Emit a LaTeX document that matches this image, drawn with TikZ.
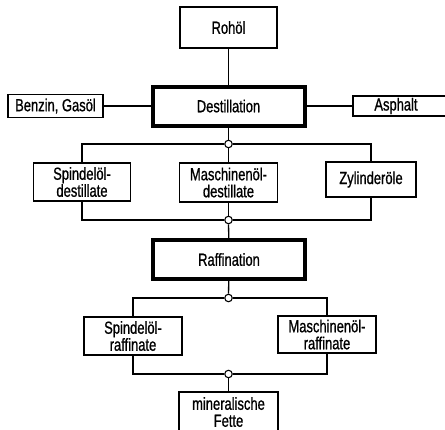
\documentclass[tikz,border=0pt]{standalone}
\usepackage{fontspec}
\setmainfont{Liberation Sans}[FakeStretch=0.74, FakeBold=0.8]
\usetikzlibrary{positioning}
\tikzset{
  every picture/.style={x=1pt, y=-1pt, line width=1.3pt},
  box/.style={draw, fill=white, line width=1.6pt, align=center, inner sep=2pt,
    font=\fontsize{17.5}{17}\selectfont, minimum width=#1},
  box/.default=97pt,
  mainbox/.style={box=152pt, line width=4pt, minimum height=39pt},
  dot/.style={circle, draw, fill=white, line width=1.1pt, inner sep=0pt, minimum size=7.5pt},
  wire/.style={draw, line width=1.3pt},
}
\begin{document}
\begin{tikzpicture}
  \useasboundingbox (0,0) rectangle (445,429);
  \clip (0,0) rectangle (445,429);
  % ---------- Destillation
  \node[box=97pt, minimum height=41pt] (roh) at (228.5,27.5) {Rohöl};
  \node[mainbox] (dest) at (228.5,106) {Destillation};
  \node[box=95pt, minimum height=23pt] (benzin) at (55.5,106) {Benzin, Gasöl};
  \node[box=97pt, minimum height=20pt] (asph) at (401.5,106) {Asphalt\hspace*{11pt}};
  \draw[wire] (roh) -- (dest);
  \draw[wire] (benzin) -- (dest);
  \draw[wire] (dest) -- (asph);
  % ---------- Destillate
  \node[dot] (j1) at (228.5,144) {};
  \node[box=97pt, minimum height=38pt] (spd) at (82,182) {Spindelöl-\\destillate};
  \node[box=98pt, minimum height=39pt] (mad) at (228.5,182.5) {Maschinenöl-\\destillate};
  \node[box=90pt, minimum height=35pt] (zyl) at (371,179.5) {Zylinderöle};
  \node[dot] (j2) at (228.5,220) {};
  \draw[wire] (dest) -- (j1);
  \draw[wire] (spd) |- (j1) -| (zyl);
  \draw[wire] (mad) -- (j1);
  \draw[wire] (spd) |- (j2) -| (zyl);
  \draw[wire] (mad) -- (j2);
  % ---------- Raffination
  \node[mainbox] (raf) at (229,259.5) {Raffination};
  \node[dot] (j3) at (228.5,298) {};
  \node[box=98pt, minimum height=38pt] (spr) at (133,336) {Spindelöl-\\raffinate};
  \node[box=98pt, minimum height=37pt] (mar) at (327,334.5) {Maschinenöl-\\raffinate};
  \node[dot] (j4) at (228.5,374) {};
  \node[box=99pt, minimum height=40pt] (fett) at (228.5,412) {mineralische\\Fette};
  \draw[wire] (j2) -- (raf);
  \draw[wire] (raf) -- (j3);
  \draw[wire] (spr) |- (j3) -| (mar);
  \draw[wire] (spr) |- (j4) -| (mar);
  \draw[wire] (j4) -- (fett);
\end{tikzpicture}
\end{document}
